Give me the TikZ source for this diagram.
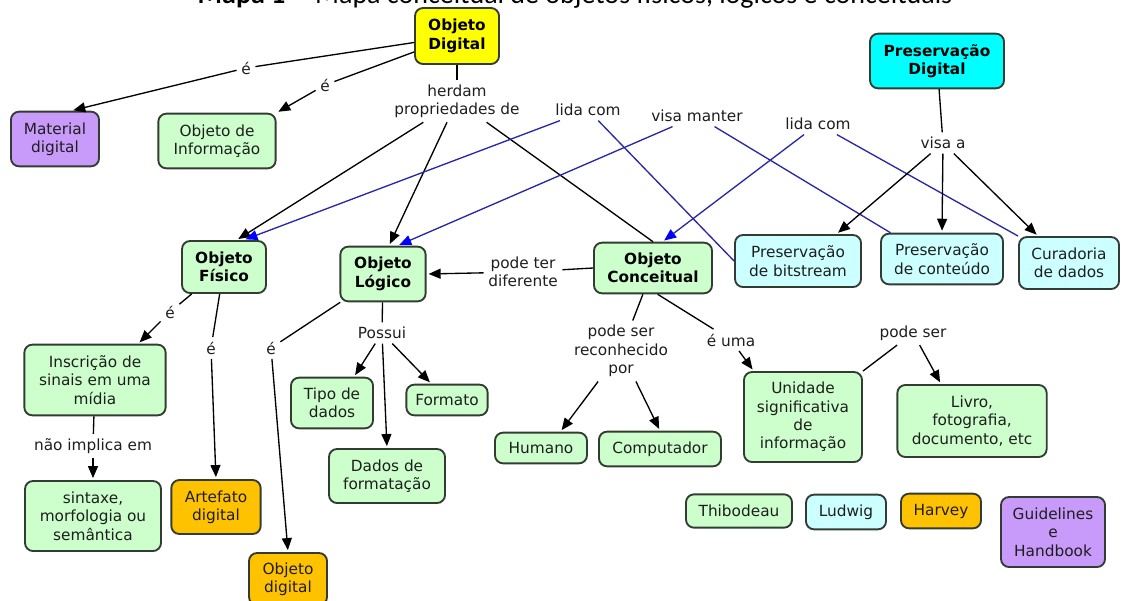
\documentclass[tikz,border=0pt]{standalone}
\usepackage{fontspec}
\setmainfont{DejaVu Sans}
\newfontfamily\titlefont{Carlito}
\usetikzlibrary{arrows.meta}

\definecolor{cyellow}{RGB}{255,255,0}
\definecolor{ccyan}{RGB}{0,255,255}
\definecolor{cgreen}{RGB}{204,255,204}
\definecolor{clcyan}{RGB}{204,255,255}
\definecolor{corange}{RGB}{255,194,0}
\definecolor{cpurple}{RGB}{200,155,250}
\definecolor{cborder}{RGB}{50,60,50}
\definecolor{ctext}{RGB}{30,30,30}
\definecolor{cblue}{RGB}{40,40,165}
\definecolor{cbluetip}{RGB}{0,0,255}

\tikzset{every picture/.style={line width=1pt}}
\tikzset{
  box/.style={draw=cborder, line width=1.4pt, rounded corners=6pt, align=center, inner sep=0pt, text=ctext, font=\fontsize{11.5}{13.8}\selectfont},
  boxb/.style={box, text=black, font=\fontsize{11.5}{13.8}\selectfont\bfseries},
  link/.style={align=center, inner sep=3pt, text=ctext, font=\fontsize{11.5}{13.8}\selectfont},
  titletext/.style={inner sep=0pt, text=black, font=\titlefont\fontsize{21}{23}\selectfont},
  arr/.style={-{Triangle[length=9pt,width=7.5pt]}, shorten >=1.5pt},
  bline/.style={draw=cblue},
  barr/.style={bline, -{Triangle[length=9pt,width=7.5pt,color=cbluetip]}, shorten >=1.5pt},
}

\begin{document}
\begin{tikzpicture}[x=0.75pt,y=0.75pt,yscale=-1,xscale=1]
	\useasboundingbox (0,0) rectangle (1126,600);
	\clip (0,0) rectangle (1126,600);

	% Title (cut at the top of the picture)
	\node[titletext, anchor=base] (title) at (575,3) {\textbf{Mapa 1 --} Mapa conceitual de objetos físicos, lógicos e conceituais};

	%Shape: Rounded Rect
	\node[boxb, fill=cyellow, minimum width=63pt, minimum height=42pt] (objdig) at (457,36) {Objeto\\Digital};
	\node[boxb, fill=ccyan, minimum width=100.5pt, minimum height=41pt] (presdig) at (937,61) {Preservação\\Digital};
	\node[box, fill=cpurple, minimum width=66pt, minimum height=41pt] (material) at (55,139) {Material\\digital};
	\node[box, fill=cgreen, minimum width=88pt, minimum height=41pt] (objinfo) at (217,141) {Objeto de\\Informação};
	\node[boxb, fill=cgreen, minimum width=63pt, minimum height=39pt] (fisico) at (224,267) {Objeto\\Físico};
	\node[boxb, fill=cgreen, minimum width=64pt, minimum height=41pt] (logico) at (383,274) {Objeto\\Lógico};
	\node[boxb, fill=cgreen, minimum width=88.5pt, minimum height=38pt] (conceitual) at (653,268) {Objeto\\Conceitual};
	\node[box, fill=clcyan, minimum width=94.5pt, minimum height=39pt] (bitstream) at (798,261) {Preservação\\de bitstream};
	\node[box, fill=clcyan, minimum width=91.5pt, minimum height=38pt] (conteudo) at (942,259) {Preservação\\de conteúdo};
	\node[box, fill=clcyan, minimum width=75pt, minimum height=39pt] (curadoria) at (1069,263) {Curadoria\\de dados};
	\node[box, fill=cgreen, minimum width=106pt, minimum height=53pt] (inscricao) at (95,380) {Inscrição de\\sinais em uma\\mídia};
	\node[box, fill=cgreen, minimum width=102pt, minimum height=52.5pt] (sintaxe) at (93,516) {sintaxe,\\morfologia ou\\semântica};
	\node[box, fill=corange, minimum width=67pt, minimum height=40.5pt] (artefato) at (216,507) {Artefato\\digital};
	\node[box, fill=corange, minimum width=58.5pt, minimum height=39pt] (objdigital) at (288,579) {Objeto\\digital};
	\node[box, fill=cgreen, minimum width=61.5pt, minimum height=38pt] (tipo) at (332,403) {Tipo de\\dados};
	\node[box, fill=cgreen, minimum width=61pt, minimum height=23pt] (formato) at (447,400) {Formato};
	\node[box, fill=cgreen, minimum width=87pt, minimum height=40.5pt] (dados) at (387,476) {Dados de\\formatação};
	\node[box, fill=cgreen, minimum width=69pt, minimum height=23pt] (humano) at (541,448) {Humano};
	\node[box, fill=cgreen, minimum width=91.5pt, minimum height=26pt] (computador) at (660,449) {Computador};
	\node[box, fill=cgreen, minimum width=88.5pt, minimum height=67.5pt] (unidade) at (803,417) {Unidade\\significativa\\de\\informação};
	\node[box, fill=cgreen, minimum width=112pt, minimum height=54pt] (livro) at (972,421) {Livro,\\fotografia,\\documento, etc};
	\node[box, fill=cgreen, minimum width=79.5pt, minimum height=25pt] (thibodeau) at (739,511) {Thibodeau};
	\node[box, fill=clcyan, minimum width=60pt, minimum height=26pt] (ludwig) at (846,512) {Ludwig};
	\node[box, fill=corange, minimum width=60pt, minimum height=26pt] (harvey) at (941,511) {Harvey};
	\node[box, fill=cpurple, minimum width=78pt, minimum height=52.5pt] (guidelines) at (1053,532) {Guidelines\\e\\Handbook};

	% Text Node
	\node[link] (e1) at (246,68) {é};
	\node[link] (e2) at (325,85) {é};
	\node[link] (herdam) at (457,101) {herdam\\propriedades de};
	\node[link] (lida1) at (588,110) {lida com};
	\node[link] (visam) at (697,116) {visa manter};
	\node[link] (lida2) at (818,124) {lida com};
	\node[link] (visaa) at (943,143) {visa a};
	\node[link] (podeter) at (523,272) {pode ter\\diferente};
	\node[link] (e3) at (170,312) {é};
	\node[link] (e4) at (211,348) {é};
	\node[link] (e5) at (271,348) {é};
	\node[link] (possui) at (382,333) {Possui};
	\node[link] (naoimp) at (93,446) {não implica em};
	\node[link] (podeser1) at (621,351) {pode ser\\reconhecido\\por};
	\node[link] (euma) at (731,340) {é uma};
	\node[link] (podeser2) at (913,333) {pode ser};

	%Straight Lines
	\draw (objdig) -- (e1);
	\draw[arr] (e1) -- (material.60);
	\draw (objdig) -- (e2);
	\draw[arr] (e2) -- (objinfo.north east);
	\draw (objdig) -- (herdam);
	\draw[arr] (herdam) -- (fisico.65);
	\draw[arr] (herdam) -- (logico.78);
	\draw (herdam) -- (conceitual.north);
	%Straight Lines (blue)
	\draw[bline] (bitstream.west) -- (lida1);
	\draw[barr] (lida1) -- (fisico.54);
	\draw[bline] (conteudo.153) -- (visam);
	\draw[barr] (visam) -- (logico.63);
	\draw[bline] (curadoria.north west) -- (lida2);
	\draw[barr] (lida2) -- (conceitual.70);
	%Straight Lines
	\draw (presdig) -- (visaa);
	\draw[arr] (visaa) -- (bitstream.35);
	\draw[arr] (visaa) -- (conteudo.north);
	\draw[arr] (visaa) -- (curadoria.139);
	\draw (conceitual.west) -- (podeter);
	\draw[arr] (podeter) -- (logico.east);
	\draw (fisico) -- (e3);
	\draw[arr] (e3) -- (inscricao.40);
	\draw (fisico) -- (e4);
	\draw[arr] (e4) -- (artefato.north);
	\draw (logico) -- (e5);
	\draw[arr] (e5) -- (objdigital.north);
	\draw (logico) -- (possui);
	\draw[arr] (possui) -- (tipo.50);
	\draw[arr] (possui) -- (dados.north);
	\draw[arr] (possui) -- (formato.134);
	\draw (inscricao) -- (naoimp);
	\draw[arr] (naoimp) -- (sintaxe.north);
	\draw (conceitual) -- (podeser1);
	\draw[arr] (podeser1) -- (humano.40);
	\draw[arr] (podeser1) -- (computador.north);
	\draw (conceitual.-80) -- (euma);
	\draw[arr] (euma) -- (unidade.137);
	\draw (unidade.north east) -- (podeser2);
	\draw[arr] (podeser2) -- (livro.130);

\end{tikzpicture}
\end{document}
